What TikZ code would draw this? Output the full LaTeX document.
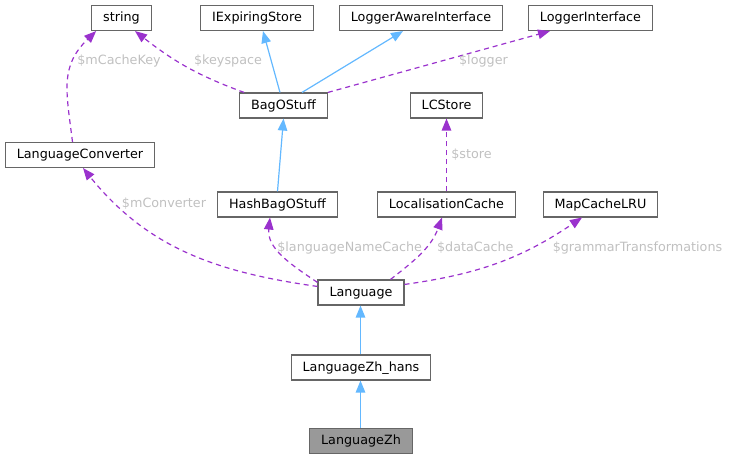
\documentclass[tikz,border=0pt]{standalone}
\usepackage{fontspec}
\setmainfont{DejaVu Sans}
\usetikzlibrary{positioning}
\usetikzlibrary{arrows.meta}
\definecolor{boxline}{HTML}{666666}
\definecolor{rootfill}{HTML}{999999}
\definecolor{inheritblue}{HTML}{63B8FF}
\definecolor{usepurple}{HTML}{9A32CD}
\definecolor{labelgrey}{HTML}{C0C0C0}
\tikzset{
    classbox/.style = {rectangle, draw=boxline, fill=white, line width=1.1pt,
        minimum height=25pt, inner xsep=11.5pt, text height=9.7pt, text depth=2.5pt},
    rootbox/.style = {classbox, fill=rootfill},
    inherit/.style = {draw=inheritblue, line width=1.2pt,
        -{Triangle[length=12pt,width=9.5pt]}},
    usage/.style = {draw=usepurple, line width=1.2pt, dash pattern=on 5pt off 4pt,
        -{Triangle[length=12pt,width=9.5pt]}},
    elabel/.style = {text=labelgrey, inner sep=0pt}}

\begin{document}
\begin{tikzpicture}[x=1pt, y=1pt, on grid,
    every node/.style={font=\fontsize{12.75}{15}\selectfont}]
    \useasboundingbox (0,0) rectangle (729,460);
    % classes
    \node[rootbox] (zh) at (361,19) {LanguageZh};
    \node[classbox] (zhhans) [above = 73.5pt of zh] {LanguageZh\_hans};
    \node[classbox] (lang) [above = 75pt of zhhans] {Language};
    \node[classbox] (hashbag) [above left = 88pt and 83.5pt of lang] {HashBagOStuff};
    \node[classbox] (loccache) [above right = 88pt and 85.5pt of lang] {LocalisationCache};
    \node[classbox] (mapcache) [right = 154pt of loccache] {MapCacheLRU};
    \node[classbox] (langconv) [above left = 137.5pt and 281pt of lang] {LanguageConverter};
    \node[classbox] (bag) [above right = 99pt and 6pt of hashbag] {BagOStuff};
    \node[classbox] (lcstore) [above = 99pt of loccache] {LCStore};
    \node[classbox] (string) [above left = 87.5pt and 162pt of bag] {string};
    \node[classbox] (iexp) [above left = 87.5pt and 26.5pt of bag] {IExpiringStore};
    \node[classbox] (loggeraware) [above right = 87.5pt and 137.5pt of bag] {LoggerAwareInterface};
    \node[classbox] (logger) [right = 169.5pt of loggeraware] {LoggerInterface};
    % inheritance
    \draw[inherit] ([xshift=-0.5pt]zh.north) -- ([xshift=-0.5pt]zhhans.south);
    \draw[inherit] ([xshift=-0.5pt]zhhans.north) -- ([xshift=-0.5pt]lang.south);
    \draw[inherit] (hashbag.north) -- (bag.south);
    \draw[inherit] ([xshift=-3.5pt]bag.north) -- ([xshift=6pt]iexp.south);
    \draw[inherit] ([xshift=18.5pt]bag.north) -- ([xshift=-18pt]loggeraware.south);
    % members
    \draw[usage] ([xshift=5pt]bag.north west) to[out=160, in=-38] ([xshift=13.5pt]string.south);
    \draw[usage] ([xshift=-7.5pt]langconv.north) to[out=97, in=-136, looseness=1.15] ([xshift=5pt]string.south west);
    \draw[usage] (bag.north east) -- ([xshift=-40.5pt]logger.south);
    \draw[usage] (loccache) -- (lcstore);
    \draw[usage] ([yshift=-7pt]lang.north west) to[out=172, in=-51] ([xshift=3pt]langconv.south);
    \draw[usage] ([yshift=-3pt]lang.north west) to[out=146, in=-96] ([xshift=-7.5pt]hashbag.south);
    \draw[usage] ([xshift=-14pt]lang.north east) to[out=38, in=-110] ([xshift=-4.5pt]loccache.south);
    \draw[usage] ([yshift=-5pt]lang.north east) to[out=8, in=-146] ([xshift=-18.5pt]mapcache.south);
    % member names
    \node[elabel] (cachekeylbl) at (119,399) {\$mCacheKey};
    \node[elabel] (keyspacelbl) at (228,399) {\$keyspace};
    \node[elabel] (loggerlbl) at (483.5,399) {\$logger};
    \node[elabel] (storelbl) at (471.5,305.7) {\$store};
    \node[elabel] (converterlbl) at (164,256.7) {\$mConverter};
    \node[elabel] (namecachelbl) at (349.7,212.3) {\$languageNameCache};
    \node[elabel] (datacachelbl) at (475.3,212.3) {\$dataCache};
    \node[elabel] (grammarlbl) at (637.5,212.3) {\$grammarTransformations};
\end{tikzpicture}
\end{document}
